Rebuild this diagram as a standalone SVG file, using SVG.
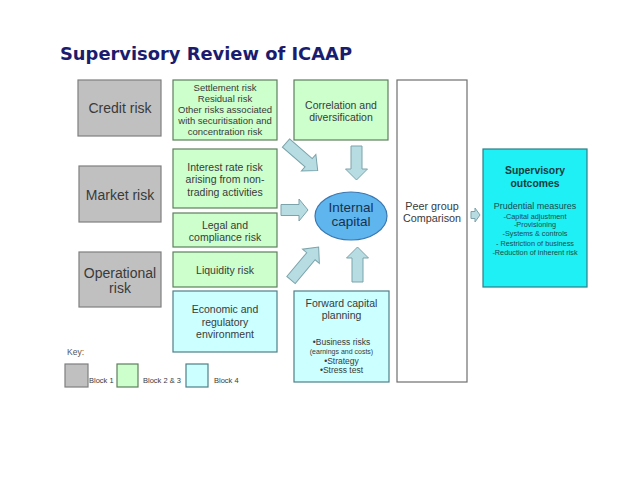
<svg xmlns="http://www.w3.org/2000/svg" width="638" height="493" viewBox="0 0 638 493">
<style>
text{font-family:"Liberation Sans",Arial,sans-serif;fill:#3a3a3a;text-anchor:middle}
.title{font-family:"DejaVu Sans",Verdana,sans-serif;font-weight:bold;fill:#1c1c6e;text-anchor:start}
.gray{fill:#c0c0c0;stroke:#7f7f7f;stroke-width:1.2}
.green{fill:#ccffcc;stroke:#5e7f5e;stroke-width:1.2}
.lcyan{fill:#ccffff;stroke:#4f7f88;stroke-width:1.2}
.cyan{fill:#1ef0f5;stroke:#2e7e88;stroke-width:1.2}
.white{fill:#ffffff;stroke:#6f6f6f;stroke-width:1.2}
.arrow{fill:#b7dde3;stroke:#7aa3ab;stroke-width:1}
.big{font-size:14px}
.mid{font-size:10.5px}
.sm{font-size:9.5px}
.key{font-size:7.5px;text-anchor:start}
</style>
<rect width="638" height="493" fill="#ffffff"/>
<text class="title" x="60" y="60" font-size="18.5" textLength="292" lengthAdjust="spacingAndGlyphs">Supervisory Review of ICAAP</text>

<g id="credit-risk"><rect class="gray" x="78" y="80" width="83" height="56"/><text class="big" x="120" y="113">Credit risk</text></g>
<g id="market-risk"><rect class="gray" x="79" y="166" width="82" height="56"/><text class="big" x="120" y="200">Market risk</text></g>
<g id="operational-risk"><rect class="gray" x="79" y="252" width="82" height="55"/><text class="big" x="120" y="278">Operational</text><text class="big" x="120" y="293">risk</text></g>

<g id="settlement"><rect class="green" x="173" y="80" width="104" height="60"/>
<text class="sm" x="225" y="90.5">Settlement risk</text>
<text class="sm" x="225" y="101.5">Residual risk</text>
<text class="sm" x="225" y="112.5">Other risks associated</text>
<text class="sm" x="225" y="123.5">with securitisation and</text>
<text class="sm" x="225" y="134.5">concentration risk</text></g>
<g id="interest-rate"><rect class="green" x="173" y="149" width="104" height="59"/>
<text class="mid" x="225" y="170.5">Interest rate risk</text>
<text class="mid" x="225" y="183">arising from non-</text>
<text class="mid" x="225" y="195.5">trading activities</text></g>
<g id="legal"><rect class="green" x="173" y="213" width="104" height="34"/>
<text class="mid" x="225" y="229">Legal and</text>
<text class="mid" x="225" y="241">compliance risk</text></g>
<g id="liquidity"><rect class="green" x="173" y="252" width="104" height="35"/>
<text class="mid" x="225" y="273.5">Liquidity risk</text></g>
<g id="economic"><rect class="lcyan" x="173" y="291" width="104" height="61"/>
<text class="mid" x="225" y="313">Economic and</text>
<text class="mid" x="225" y="326">regulatory</text>
<text class="mid" x="225" y="338">environment</text></g>

<g id="correlation"><rect class="green" x="294" y="80" width="94" height="60"/>
<text class="mid" x="341" y="109">Correlation and</text>
<text class="mid" x="341" y="121">diversification</text></g>
<g id="internal-capital"><ellipse cx="351" cy="216" rx="36" ry="24" fill="#5fb5ee" stroke="#3b78b0" stroke-width="1.2"/>
<text x="351" y="211.5" font-size="13.5" style="fill:#17324f">Internal</text>
<text x="351" y="226" font-size="13.5" style="fill:#17324f">capital</text></g>
<g id="forward-capital"><rect class="lcyan" x="294" y="291" width="95" height="91"/>
<text class="mid" x="341.5" y="307">Forward capital</text>
<text class="mid" x="341.5" y="319">planning</text>
<text x="341.5" y="345" font-size="8.5">•Business risks</text>
<text x="341.5" y="353.5" font-size="7">(earnings and costs)</text>
<text x="341.5" y="363.5" font-size="8.5">•Strategy</text>
<text x="341.5" y="373" font-size="8.5">•Stress test</text></g>

<g id="peer-group"><rect class="white" x="397" y="80" width="70" height="302"/>
<text x="432" y="210" font-size="10.8">Peer group</text>
<text x="432" y="222" font-size="10.8">Comparison</text></g>

<g id="supervisory-outcomes"><rect class="cyan" x="483" y="149" width="104" height="138"/>
<text x="535" y="174" font-size="10.4" font-weight="bold" style="fill:#163a3c">Supervisory</text>
<text x="535" y="186.5" font-size="10.4" font-weight="bold" style="fill:#163a3c">outcomes</text>
<text x="535" y="209" font-size="9" style="fill:#1e4a4c">Prudential measures</text>
<text x="535" y="218.5" font-size="7.3" style="fill:#1e4a4c">-Capital adjustment</text>
<text x="535" y="227" font-size="7.3" style="fill:#1e4a4c">-Provisioning</text>
<text x="535" y="236" font-size="7.3" style="fill:#1e4a4c">-Systems &amp; controls</text>
<text x="535" y="245.5" font-size="7.3" style="fill:#1e4a4c">- Restriction of business</text>
<text x="535" y="254.5" font-size="7.3" style="fill:#1e4a4c">-Reduction of inherent risk</text></g>

<g id="connectors">
<path class="arrow" transform="translate(286,143) rotate(41)" d="M0,-5.5 H30 V-11 L42,0 L30,11 V5.5 H0 Z"/>
<path class="arrow" transform="translate(356.5,146) rotate(90)" d="M0,-5.5 H23 V-11 L34,0 L23,11 V5.5 H0 Z"/>
<path class="arrow" transform="translate(281,210)" d="M0,-5.5 H18 V-11 L27,0 L18,11 V5.5 H0 Z"/>
<path class="arrow" transform="translate(291,280) rotate(-50)" d="M0,-5.5 H31 V-11 L43,0 L31,11 V5.5 H0 Z"/>
<path class="arrow" transform="translate(357.5,282) rotate(-90)" d="M0,-5.5 H24 V-11 L35,0 L24,11 V5.5 H0 Z"/>
<path class="arrow" d="M471,211.5 H475 V208 L480,215 L475,222 V218.5 H471 Z"/>
</g>

<g id="key">
<text x="67" y="355" font-size="8.5" style="text-anchor:start;fill:#555">Key:</text>
<rect class="gray" x="65" y="364" width="23" height="23"/>
<text class="key" x="89" y="383">Block 1</text>
<rect class="green" x="117" y="364" width="21" height="23"/>
<text class="key" x="143" y="383">Block 2 &amp; 3</text>
<rect class="lcyan" x="186" y="364" width="22" height="23"/>
<text class="key" x="214" y="383">Block 4</text>
</g>
</svg>
